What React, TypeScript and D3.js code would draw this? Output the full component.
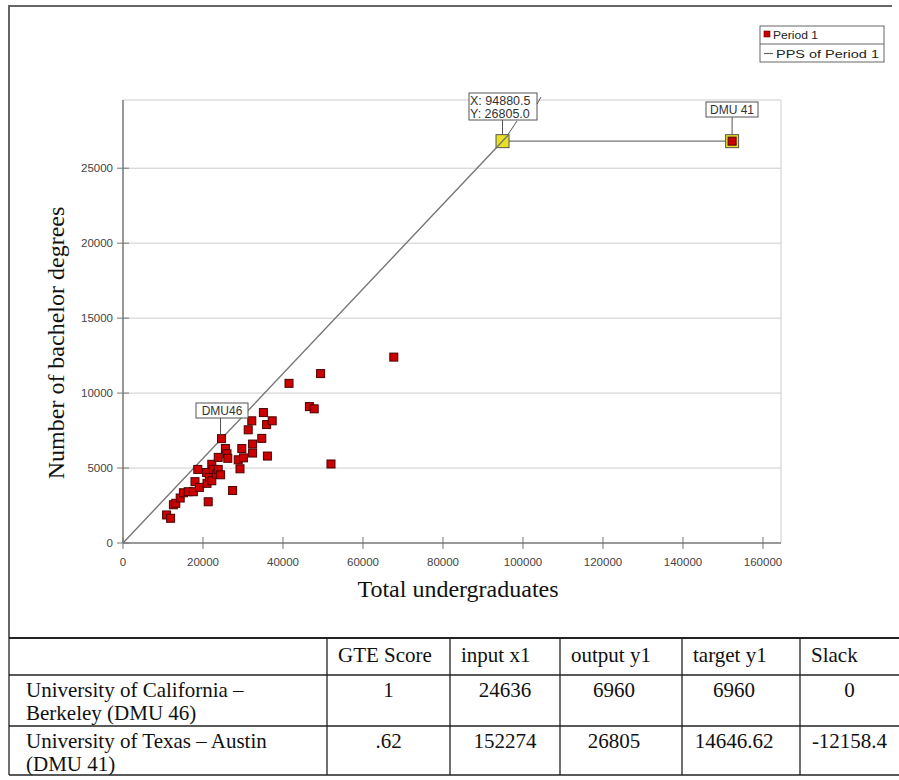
import * as d3 from "d3";

// scatter: total undergraduates (x1) vs number of bachelor degrees (y1)
const undergrads = [
  10900, 11900, 12600, 13200, 14300, 15100, 16300, 17600, 18000, 19100,
  18700, 21000, 21300, 20900, 21600, 22200, 22200, 22600, 23400, 23800,
  23800, 24400, 24636, 25600, 26000, 26200, 27400, 28800, 29250, 29700,
  30100, 31300, 32200, 32400, 32400, 34700, 35100, 35900, 36100, 37300,
  41500, 46600, 47800, 49400, 52000, 67700, 152274,
];
const bachelors = [
  1870, 1650, 2550, 2650, 3000, 3350, 3420, 3420, 4090, 3710,
  4910, 3980, 2750, 4700, 4380, 4150, 5250, 4910, 4600, 4910,
  5710, 4550, 6960, 6300, 5950, 5650, 3500, 5550, 4950, 6300,
  5680, 7550, 8150, 6600, 6000, 6980, 8700, 7900, 5800, 8150,
  10650, 9100, 8950, 11300, 5270, 12400, 26805,
];

const xTicks = d3.range(0, 160001, 20000);
const yTicks = d3.range(0, 25001, 5000);

const dmu46 = { x: 24636, y: 6960 };
const dmu41 = { x: 152274, y: 26805 };
const projected = { x: 94880.5, y: 26805.0 };

const tableHeader = ["GTE Score", "input x1", "output y1", "target y1", "Slack"];
const tableNames = [
  ["University of California \u2013", "Berkeley (DMU 46)"],
  ["University of Texas \u2013 Austin", "(DMU 41)"],
];
const tableValues = [
  ["1", "24636", "6960", "6960", "0"],
  [".62", "152274", "26805", "14646.62", "-12158.4"],
];

const sans = "Arial, 'Liberation Sans', sans-serif";
const serif = "'Times New Roman', 'Liberation Serif', serif";

export default function App() {
  const left = 123, right = 781, top = 100, bottom = 543;
  const x = d3.scaleLinear().domain([0, 164500]).range([left, right]);
  const y = d3.scaleLinear().domain([0, 29550]).range([bottom, top]);

  const pps = d3
    .line<{ x: number; y: number }>()
    .x((d) => x(d.x))
    .y((d) => y(d.y))([{ x: 0, y: 0 }, projected, dmu41]);

  const pts = undergrads.map((u, i) => ({ u, b: bachelors[i] })).slice(0, -1);

  // table geometry
  const cols = [9, 327, 450, 560, 682, 800, 899];
  const rowsY = [638, 675, 726, 775];

  const px = x(projected.x), py = y(projected.y);
  const dx = x(dmu41.x), dy = y(dmu41.y);
  const bx = x(dmu46.x), by = y(dmu46.y);

  return (
    <svg
      width={899}
      height={780}
      style={{ position: "absolute", left: 0, top: 0, background: "#fff" }}
    >
      {/* outer frame of the chart picture */}
      <line x1={8} x2={892} y1={6} y2={6} stroke="#666" strokeWidth={2} />
      <line x1={9} x2={9} y1={5} y2={638} stroke="#666" strokeWidth={2} />

      {/* grid + frame */}
      {yTicks.slice(1).map((t) => (
        <line key={t} x1={left} x2={right} y1={y(t)} y2={y(t)} stroke="#cdcdcd" />
      ))}
      <line x1={left} x2={right} y1={top} y2={top} stroke="#cdcdcd" />
      <line x1={right} x2={right} y1={top} y2={bottom} stroke="#cdcdcd" />

      {/* axes */}
      <line x1={left} x2={left} y1={top} y2={bottom} stroke="#777" strokeWidth={1.5} />
      <line x1={left} x2={right} y1={bottom} y2={bottom} stroke="#777" strokeWidth={1.5} />
      {yTicks.map((t) => (
        <g key={t}>
          <line x1={left - 6} x2={left + 6} y1={y(t)} y2={y(t)} stroke="#777" />
          <text x={left - 10} y={y(t) + 4} textAnchor="end" fontFamily={sans} fontSize={11.5} fill="#444">
            {t}
          </text>
        </g>
      ))}
      {xTicks.map((t) => (
        <g key={t}>
          <line x1={x(t)} x2={x(t)} y1={bottom - 6} y2={bottom + 6} stroke="#777" />
          <text x={x(t)} y={bottom + 23} textAnchor="middle" fontFamily={sans} fontSize={11.5} fill="#444">
            {t}
          </text>
        </g>
      ))}

      {/* axis titles */}
      <text x={458} y={597} textAnchor="middle" fontFamily={serif} fontSize={24} fill="#111">
        Total undergraduates
      </text>
      <text
        transform="translate(64,343) rotate(-90)"
        textAnchor="middle"
        fontFamily={serif}
        fontSize={24}
        fill="#111"
      >
        Number of bachelor degrees
      </text>

      {/* PPS line */}
      <path d={pps ?? ""} fill="none" stroke="#777" strokeWidth={1.4} />

      {/* points */}
      {pts.map((d, i) => (
        <rect
          key={i}
          x={x(d.u) - 4}
          y={y(d.b) - 4}
          width={8}
          height={8}
          fill="#cc0000"
          stroke="#4a0000"
          strokeWidth={1}
        />
      ))}

      {/* DMU46 label */}
      <line x1={bx - 1} x2={bx - 1} y1={418} y2={by - 4} stroke="#555" />
      <rect x={196} y={403} width={52} height={15} fill="#fff" stroke="#555" />
      <text x={222} y={415} textAnchor="middle" fontFamily={sans} fontSize={12} fill="#333">
        DMU46
      </text>

      {/* projected point label */}
      <line x1={px} x2={px} y1={120} y2={py - 6} stroke="#555" />
      <line x1={517} x2={px + 5} y1={121} y2={py - 6} stroke="#555" />
      <clipPath id="clipXY">
        <rect x={469} y={93} width={68} height={27} />
      </clipPath>
      <rect x={469} y={93} width={68} height={27} fill="#fff" stroke="#555" />
      <g clipPath="url(#clipXY)" fontFamily={sans} fontSize={12.5} fill="#333">
        <text x={470} y={105}>X: {projected.x.toFixed(1)}</text>
        <text x={470} y={117.5}>Y: {projected.y.toFixed(1)}</text>
      </g>
      <line x1={537} x2={541} y1={104} y2={97} stroke="#555" />
      <rect x={px - 6.5} y={py - 6.5} width={13} height={13} fill="#e8e020" stroke="#555" />
      <line x1={px - 6} x2={px + 6} y1={py + 6.4} y2={py - 6.4} stroke="#777" strokeWidth={1.3} />

      {/* DMU41 label + marker */}
      <line x1={dx} x2={dx} y1={117} y2={dy - 6} stroke="#555" />
      <rect x={706} y={102} width={52} height={15} fill="#fff" stroke="#555" />
      <text x={732} y={114} textAnchor="middle" fontFamily={sans} fontSize={12} fill="#333">
        DMU 41
      </text>
      <rect x={dx - 6.5} y={dy - 6.5} width={13} height={13} fill="#e8e020" stroke="#555" />
      <rect x={dx - 4} y={dy - 4} width={8} height={8} fill="#cc0000" stroke="#4a0000" strokeWidth={1} />

      {/* legend */}
      <rect x={760} y={26} width={124} height={36} fill="#fff" stroke="#666" />
      <line x1={760} x2={884} y1={44} y2={44} stroke="#666" />
      <rect x={764} y={31} width={6} height={6} fill="#cc0000" stroke="#5a0000" strokeWidth={0.6} />
      <text x={773} y={38.5} fontFamily={sans} fontSize={11} fill="#222" textLength={45} lengthAdjust="spacingAndGlyphs">
        Period 1
      </text>
      <line x1={764} x2={773} y1={53.5} y2={53.5} stroke="#666" strokeWidth={1.2} />
      <text x={776} y={57.5} fontFamily={sans} fontSize={11} fill="#222" textLength={103} lengthAdjust="spacingAndGlyphs">
        PPS of Period 1
      </text>

      {/* table */}
      {rowsY.map((ry, i) => (
        <line key={ry} x1={9} x2={899} y1={ry} y2={ry} stroke="#222" strokeWidth={i === 0 ? 2.2 : 1.3} />
      ))}
      {cols.slice(0, -1).map((cx) => (
        <line key={cx} x1={cx} x2={cx} y1={rowsY[0]} y2={rowsY[3]} stroke="#222" strokeWidth={1.3} />
      ))}
      <g fontFamily={serif} fontSize={21} fill="#111">
        {tableHeader.map((h, i) => (
          <text key={h} x={cols[i + 1] + 11} y={662}>
            {h}
          </text>
        ))}
        {tableNames.map((lines, r) =>
          lines.map((l, k) => (
            <text key={l} x={26} y={rowsY[r + 1] + 22 + k * 22.5}>
              {l}
            </text>
          ))
        )}
        {tableValues.map((vals, r) =>
          vals.map((v, c) => (
            <text
              key={r + "-" + c}
              x={(cols[c + 1] + cols[c + 2]) / 2 - (c === 2 || c === 3 ? 7 : 0)}
              y={rowsY[r + 1] + 22}
              textAnchor="middle"
            >
              {v}
            </text>
          ))
        )}
      </g>
    </svg>
  );
}
